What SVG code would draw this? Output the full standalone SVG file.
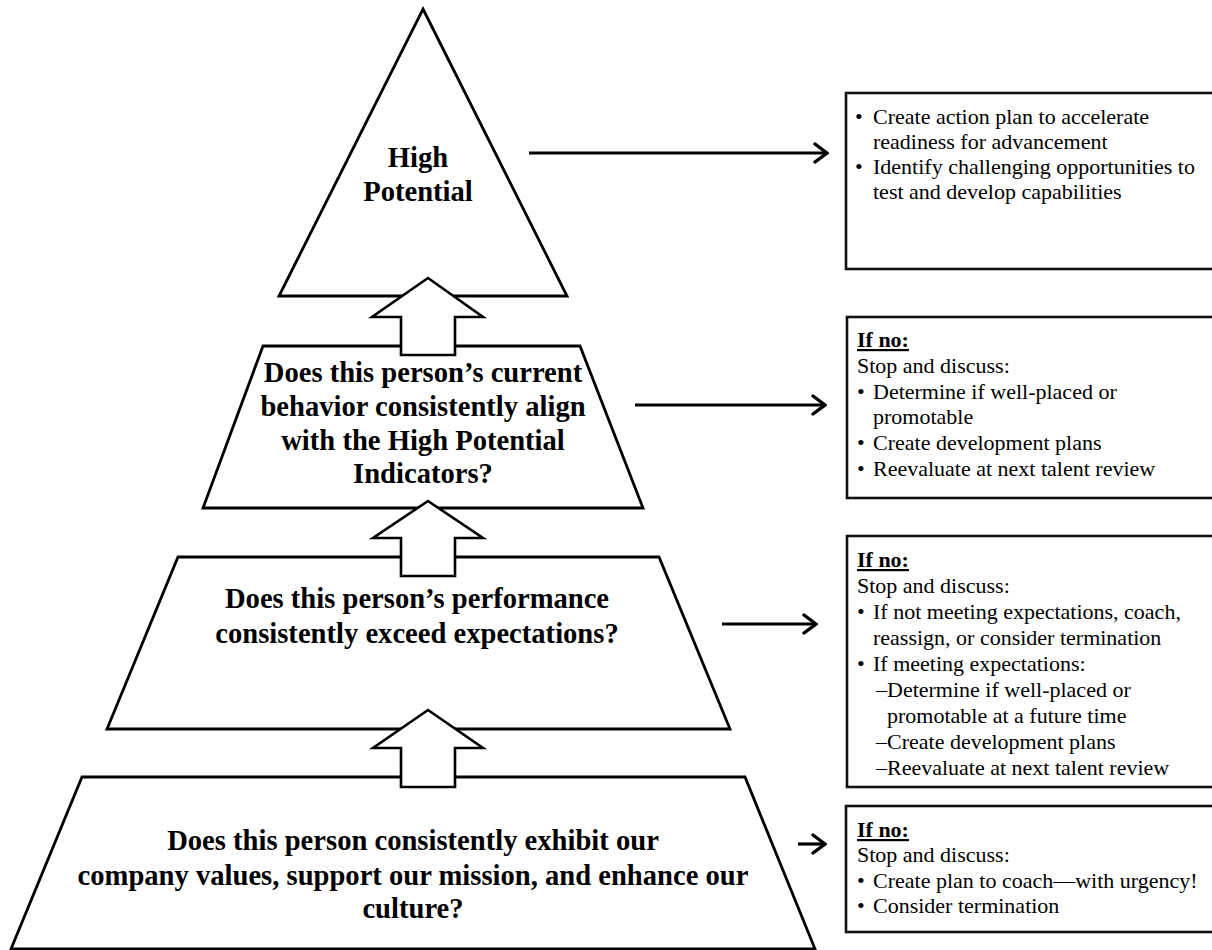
<svg xmlns="http://www.w3.org/2000/svg" width="1212" height="950" viewBox="0 0 1212 950">
<defs>
<style>
.shape{fill:#fff;stroke:#000;stroke-width:2.8;stroke-linejoin:miter}
.up{fill:#fff;stroke:#000;stroke-width:2.6;stroke-linejoin:miter}
.q{font-family:"Liberation Serif","Times New Roman",serif;font-weight:bold;font-size:28.6px;fill:#000;text-anchor:middle}
.box{fill:#fff;stroke:#111;stroke-width:2.6}
.t{font-family:"Liberation Serif","Times New Roman",serif;font-size:22px;fill:#000}
.h{font-weight:bold;text-decoration:underline}
.conn{stroke:#000;stroke-width:3.2;fill:none}
</style>
<marker id="ah" viewBox="0 0 16 22" refX="14" refY="11" markerWidth="16" markerHeight="22" markerUnits="userSpaceOnUse" orient="auto">
<path d="M2,2 L14,11 L2,20" fill="none" stroke="#000" stroke-width="3.4" stroke-linecap="round" stroke-linejoin="miter"/>
</marker>
</defs>
<rect width="1212" height="950" fill="#fff"/>

<g id="node-high-potential">
<polygon class="shape" points="423,9 567,296 279,296"/>
<text class="q" x="418" y="167">High</text>
<text class="q" x="418" y="201">Potential</text>
</g>

<g id="node-behavior">
<polygon class="shape" points="263,346 580,346 643,508 203,508"/>
<text class="q" x="423" y="382">Does this person’s current</text>
<text class="q" x="423" y="416">behavior consistently align</text>
<text class="q" x="423" y="450">with the High Potential</text>
<text class="q" x="423" y="483">Indicators?</text>
</g>

<g id="node-performance">
<polygon class="shape" points="178,557 659,557 730,729 107,729"/>
<text class="q" x="417" y="608">Does this person’s performance</text>
<text class="q" x="417" y="643">consistently exceed expectations?</text>
</g>

<g id="node-values">
<polygon class="shape" points="82,777 745,777 815,949 11,949"/>
<text class="q" x="413" y="850">Does this person consistently exhibit our</text>
<text class="q" x="413" y="885">company values, support our mission, and enhance our</text>
<text class="q" x="413" y="918">culture?</text>
</g>

<g id="up-arrows">
<polygon class="up" points="428,278 483,317 455,317 455,355 401,355 401,317 372,317"/>
<polygon class="up" points="428,501 483,538 455,538 455,576 401,576 401,538 373,538"/>
<polygon class="up" points="428,710 483,748 455,748 455,787 401,787 401,748 373,748"/>
</g>

<g id="box-high-potential">
<rect class="box" x="846" y="93" width="380" height="176"/>
<text class="t"><tspan x="855" y="124">•</tspan><tspan x="873" y="124">Create action plan to accelerate</tspan></text>
<text class="t" x="873" y="149">readiness for advancement</text>
<text class="t"><tspan x="855" y="174">•</tspan><tspan x="873" y="174">Identify challenging opportunities to</tspan></text>
<text class="t" x="873" y="199">test and develop capabilities</text>
</g>

<g id="box-behavior">
<rect class="box" x="847" y="317" width="380" height="181"/>
<text class="t h" x="857" y="347">If no:</text>
<text class="t" x="857" y="373">Stop and discuss:</text>
<text class="t"><tspan x="857" y="399">•</tspan><tspan x="873" y="399">Determine if well-placed or</tspan></text>
<text class="t" x="873" y="424">promotable</text>
<text class="t"><tspan x="857" y="450">•</tspan><tspan x="873" y="450">Create development plans</tspan></text>
<text class="t"><tspan x="857" y="476">•</tspan><tspan x="873" y="476">Reevaluate at next talent review</tspan></text>
</g>

<g id="box-performance">
<rect class="box" x="847" y="536" width="380" height="251"/>
<text class="t h" x="857" y="567">If no:</text>
<text class="t" x="857" y="593">Stop and discuss:</text>
<text class="t"><tspan x="857" y="619">•</tspan><tspan x="873" y="619">If not meeting expectations, coach,</tspan></text>
<text class="t" x="873" y="645">reassign, or consider termination</text>
<text class="t"><tspan x="857" y="671">•</tspan><tspan x="873" y="671">If meeting expectations:</tspan></text>
<text class="t"><tspan x="876" y="697">–</tspan><tspan x="887" y="697">Determine if well-placed or</tspan></text>
<text class="t" x="887" y="723">promotable at a future time</text>
<text class="t"><tspan x="876" y="749">–</tspan><tspan x="887" y="749">Create development plans</tspan></text>
<text class="t"><tspan x="876" y="775">–</tspan><tspan x="887" y="775">Reevaluate at next talent review</tspan></text>
</g>

<g id="box-values">
<rect class="box" x="846" y="806" width="380" height="126"/>
<text class="t h" x="857" y="837">If no:</text>
<text class="t" x="857" y="862">Stop and discuss:</text>
<text class="t"><tspan x="857" y="888">•</tspan><tspan x="873" y="888">Create plan to coach—with urgency!</tspan></text>
<text class="t"><tspan x="857" y="913">•</tspan><tspan x="873" y="913">Consider termination</tspan></text>
</g>

<g id="connectors">
<line class="conn" x1="529" y1="153" x2="827" y2="153" marker-end="url(#ah)"/>
<line class="conn" x1="635" y1="405" x2="825" y2="405" marker-end="url(#ah)"/>
<line class="conn" x1="722" y1="624" x2="816" y2="624" marker-end="url(#ah)"/>
<line class="conn" x1="798" y1="844" x2="825" y2="844" marker-end="url(#ah)"/>
</g>
</svg>
